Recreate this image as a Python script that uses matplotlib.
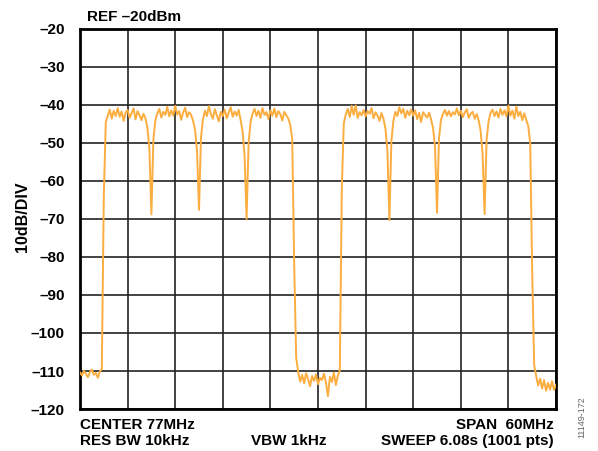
import numpy as np
import matplotlib
matplotlib.use('Agg')
import matplotlib.pyplot as plt

# sweep: 47 MHz .. 107 MHz (CENTER 77MHz, SPAN 60MHz), read every 0.25 MHz
start_mhz = 47.0
stop_mhz = 107.0
step_mhz = 0.25

# trace level in dBm, one row per 6 MHz division
level_dbm = [
    # 47.00 - 52.75
    -110.4, -111.2, -109.9, -110.8, -111.6, -110.3, -109.6, -111.0, -110.5, -111.8, -110.1, -109.5,
    -64.0, -44.5, -42.8, -41.2, -43.6, -41.5, -42.9, -40.8, -43.1, -41.7, -44.2, -42.0,
    # 53.00 - 58.75
    -41.3, -43.4, -42.1, -40.9, -43.8, -41.6, -42.7, -44.0, -42.3, -43.5, -46.0, -51.5,
    -68.8, -49.0, -44.0, -42.2, -41.0, -43.3, -41.8, -42.6, -40.5, -43.0, -41.4, -42.8,
    # 59.00 - 64.75
    -40.2, -42.5, -41.6, -43.9, -42.0, -40.7, -43.2, -41.9, -42.6, -44.1, -46.5, -52.0,
    -67.6, -48.5, -43.8, -41.5, -42.9, -40.3, -42.4, -43.6, -41.1, -42.7, -44.3, -41.8,
    # 65.00 - 70.75
    -42.9, -41.2, -43.5, -42.0, -40.6, -43.1, -41.7, -42.8, -41.3, -44.0, -47.0, -53.5,
    -70.0, -50.0, -44.5, -42.3, -41.0, -42.9, -41.5, -43.4, -40.8, -42.6, -41.9, -43.7,
    # 71.00 - 76.75
    -41.4, -42.8, -40.9, -43.2, -41.6, -42.4, -44.1, -41.8, -42.7, -43.5, -45.2, -49.0,
    -82.0, -106.5, -110.2, -112.8, -111.0, -113.2, -110.6, -112.1, -114.0, -111.3, -112.6, -110.9,
    # 77.00 - 82.75
    -113.5, -111.8, -112.4, -110.7, -113.0, -116.6, -111.5, -112.9, -110.4, -113.7, -111.2, -109.8,
    -62.0, -44.8, -42.5, -41.0, -43.2, -40.2, -42.6, -40.1, -43.4, -41.9, -42.7, -41.3,
    # 83.00 - 88.75
    -43.0, -41.6, -42.3, -40.8, -43.5, -41.9, -42.8, -44.2, -42.1, -43.6, -46.2, -52.0,
    -70.3, -49.5, -44.2, -41.8, -42.9, -40.6, -42.2, -41.0, -43.4, -41.5, -42.7, -41.2,
    # 89.00 - 94.75
    -42.8, -41.4, -43.7, -42.1, -44.5, -41.9, -42.6, -43.3, -42.0, -43.8, -46.0, -51.0,
    -68.4, -48.8, -43.9, -42.4, -41.3, -42.8, -41.6, -43.0, -41.9, -42.5, -40.9, -42.7,
    # 95.00 - 100.75
    -41.5, -43.2, -42.0, -41.1, -43.4, -42.3, -41.8, -43.6, -42.4, -44.0, -46.8, -53.0,
    -68.7, -49.2, -44.3, -42.1, -41.2, -42.9, -41.7, -43.3, -41.0, -42.6, -41.4, -43.0,
    # 101.00 - 107.00
    -40.1, -42.8, -41.5, -43.6, -40.4, -42.9, -41.8, -44.0, -42.2, -43.9, -45.5, -50.0,
    -84.0, -108.5, -111.3, -113.8, -112.0, -114.6, -112.4, -115.2, -113.1, -114.9, -112.7, -115.0,
    -113.6,
]

y_ticks = [-20, -30, -40, -50, -60, -70, -80, -90, -100, -110, -120]

freq_mhz = np.arange(len(level_dbm)) * step_mhz + start_mhz

plt.rcParams['font.family'] = ['Liberation Sans', 'DejaVu Sans']
plt.rcParams['font.weight'] = 'bold'

W, H = 598, 451
fs = 11
fig = plt.figure(figsize=(W / 100, H / 100), dpi=100)
ax = fig.add_axes([80 / W, (H - 409) / H, 476 / W, 380 / H])

ax.plot(freq_mhz, level_dbm, color='#FBAD3F', lw=1.4, zorder=3)

ax.set_xlim(start_mhz, stop_mhz)
ax.set_ylim(-120, -20)
ax.set_xticks(np.linspace(start_mhz, stop_mhz, 11))
ax.set_yticks(y_ticks)
ax.set_xticklabels([])
ax.set_yticklabels([str(v).replace('-', '\u2013') for v in y_ticks],
                   fontsize=fs, fontweight='bold')
ax.tick_params(length=0, pad=11)
ax.grid(True, color='#222222', lw=1.2, zorder=1)
for s in ax.spines.values():
    s.set_linewidth(2)
    s.set_color('black')

fig.text(23 / W, 1 - 217 / H, '10dB/DIV', fontsize=11.5, fontweight='bold',
         rotation=90, ha='center', va='center')

fig.text(87 / W, 1 - 17 / H, 'REF \u201320dBm', fontsize=fs, fontweight='bold',
         ha='left', va='center')
fig.text(80 / W, 1 - 425 / H, 'CENTER 77MHz', fontsize=fs, fontweight='bold',
         ha='left', va='center')
fig.text(80 / W, 1 - 441 / H, 'RES BW 10kHz', fontsize=fs, fontweight='bold',
         ha='left', va='center')
fig.text(251 / W, 1 - 441 / H, 'VBW 1kHz', fontsize=fs, fontweight='bold',
         ha='left', va='center')
fig.text(554 / W, 1 - 425 / H, 'SPAN  60MHz', fontsize=fs, fontweight='bold',
         ha='right', va='center')
fig.text(554 / W, 1 - 441 / H, 'SWEEP 6.08s (1001 pts)', fontsize=fs, fontweight='bold',
         ha='right', va='center')
fig.text(582 / W, 1 - 417 / H, '11149-172', fontsize=6.5, fontweight='normal',
         color='#666666', rotation=90, ha='center', va='center')

fig.savefig('out.png', dpi=100)
